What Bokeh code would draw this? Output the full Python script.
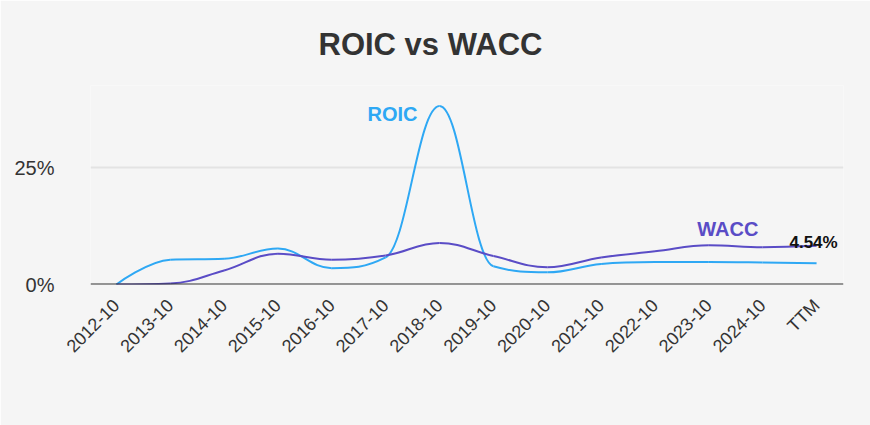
import math
from bokeh.plotting import figure
from bokeh.models import FixedTicker, Span, Label, Range1d
from bokeh.embed import file_html
from bokeh.resources import INLINE

categories = ["2012-10", "2013-10", "2014-10", "2015-10", "2016-10", "2017-10", "2018-10",
              "2019-10", "2020-10", "2021-10", "2022-10", "2023-10", "2024-10", "TTM"]
roic = [0.0, 5.3, 5.5, 7.7, 3.5, 5.8, 38.2, 3.9, 2.6, 4.4, 4.8, 4.8, 4.7, 4.54]
wacc = [0.0, 0.2, 3.0, 6.6, 5.3, 6.2, 8.9, 6.1, 3.7, 5.8, 7.1, 8.4, 8.0, 8.3]
y_ticks = [0, 25]
y_tick_labels = ["0%", "25%"]
last_label = "4.54%"
title_text = "ROIC vs WACC"

ROIC_COLOR = "#2ea8f4"
WACC_COLOR = "#5a4cc6"
FONT = "Liberation Sans"


def spline_segments(xs, ys, smoothing=1.5):
    """Highcharts-style spline control points -> list of bezier segments."""
    n = len(xs)
    denom = smoothing + 1
    left = [None] * n
    right = [None] * n
    for i in range(n):
        px, py = xs[i], ys[i]
        if 0 < i < n - 1:
            lx, ly = xs[i - 1], ys[i - 1]
            nx, ny = xs[i + 1], ys[i + 1]
            lcx = (smoothing * px + lx) / denom
            lcy = (smoothing * py + ly) / denom
            rcx = (smoothing * px + nx) / denom
            rcy = (smoothing * py + ny) / denom
            if rcx != lcx:
                corr = ((rcy - lcy) * (rcx - px)) / (rcx - lcx) + py - rcy
                lcy += corr
                rcy += corr
            if lcy > ly and lcy > py:
                lcy = max(ly, py)
                rcy = 2 * py - lcy
            elif lcy < ly and lcy < py:
                lcy = min(ly, py)
                rcy = 2 * py - lcy
            if rcy > ny and rcy > py:
                rcy = max(ny, py)
                lcy = 2 * py - rcy
            elif rcy < ny and rcy < py:
                rcy = min(ny, py)
                lcy = 2 * py - rcy
            left[i] = (lcx, lcy)
            right[i] = (rcx, rcy)
        else:
            left[i] = (px, py)
            right[i] = (px, py)
    segs = dict(x0=[], y0=[], x1=[], y1=[], cx0=[], cy0=[], cx1=[], cy1=[])
    for i in range(1, n):
        segs["x0"].append(xs[i - 1]); segs["y0"].append(ys[i - 1])
        segs["x1"].append(xs[i]); segs["y1"].append(ys[i])
        segs["cx0"].append(right[i - 1][0]); segs["cy0"].append(right[i - 1][1])
        segs["cx1"].append(left[i][0]); segs["cy1"].append(left[i][1])
    return segs


xs = list(range(len(categories)))

p = figure(width=870, height=425, output_backend="svg", toolbar_location=None,
           x_range=Range1d(-0.48, len(categories) - 1 + 0.5),
           y_range=Range1d(0, 42.6),
           background_fill_color="#f5f5f5", border_fill_color="#f5f5f5",
           min_border_left=90, min_border_right=27, min_border_top=10, min_border_bottom=141,
           outline_line_color=None)

p.title.text = title_text
p.title.align = "left"
p.title.offset = 228
p.title.text_font = FONT
p.title.text_font_size = "31px"
p.title.text_font_style = "bold"
p.title.text_color = "#333333"
p.title.standoff = 48

# axes
p.xaxis.ticker = FixedTicker(ticks=xs)
p.xaxis.major_label_overrides = {i: c for i, c in enumerate(categories)}
p.xaxis.major_label_orientation = math.pi / 4
p.xaxis.major_label_text_font = FONT
p.xaxis.major_label_text_font_size = "18px"
p.xaxis.major_label_text_color = "#333333"
p.xaxis.axis_line_color = None
p.xaxis.major_tick_line_color = None
p.xaxis.minor_tick_line_color = None
p.xaxis.major_label_standoff = 12

p.yaxis.ticker = FixedTicker(ticks=y_ticks)
p.yaxis.major_label_overrides = {t: l for t, l in zip(y_ticks, y_tick_labels)}
p.yaxis.major_label_text_font = FONT
p.yaxis.major_label_text_font_size = "20px"
p.yaxis.major_label_text_color = "#333333"
p.yaxis.axis_line_color = None
p.yaxis.major_tick_line_color = None
p.yaxis.minor_tick_line_color = None
p.yaxis.major_label_standoff = 30

p.xgrid.grid_line_color = None
p.ygrid.grid_line_color = "#e3e3e3"
p.ygrid.grid_line_width = 2

p.add_layout(Span(location=0, dimension="width", line_color="#333333", line_width=2))

rs = spline_segments(xs, roic)
p.bezier(source=rs, x0="x0", y0="y0", x1="x1", y1="y1", cx0="cx0", cy0="cy0",
         cx1="cx1", cy1="cy1", line_color=ROIC_COLOR, line_width=2)
ws = spline_segments(xs, wacc)
p.bezier(source=ws, x0="x0", y0="y0", x1="x1", y1="y1", cx0="cx0", cy0="cy0",
         cx1="cx1", cy1="cy1", line_color=WACC_COLOR, line_width=2)

p.add_layout(Label(x=6, y=roic[6], text="ROIC", text_font=FONT, text_font_size="20px",
                   text_font_style="bold", text_color=ROIC_COLOR, text_align="right",
                   text_baseline="middle", x_offset=-22, y_offset=-8))
p.add_layout(Label(x=11, y=wacc[11], text="WACC", text_font=FONT, text_font_size="20px",
                   text_font_style="bold", text_color=WACC_COLOR, text_align="center",
                   text_baseline="bottom", x_offset=19, y_offset=5))
p.add_layout(Label(x=len(xs) - 1, y=wacc[-1], text=last_label, text_font=FONT,
                   text_font_size="17px", text_font_style="bold", text_color="#111111",
                   text_align="center", text_baseline="middle", x_offset=-3, y_offset=3))

open("out.html", "w").write(file_html(p, INLINE))
